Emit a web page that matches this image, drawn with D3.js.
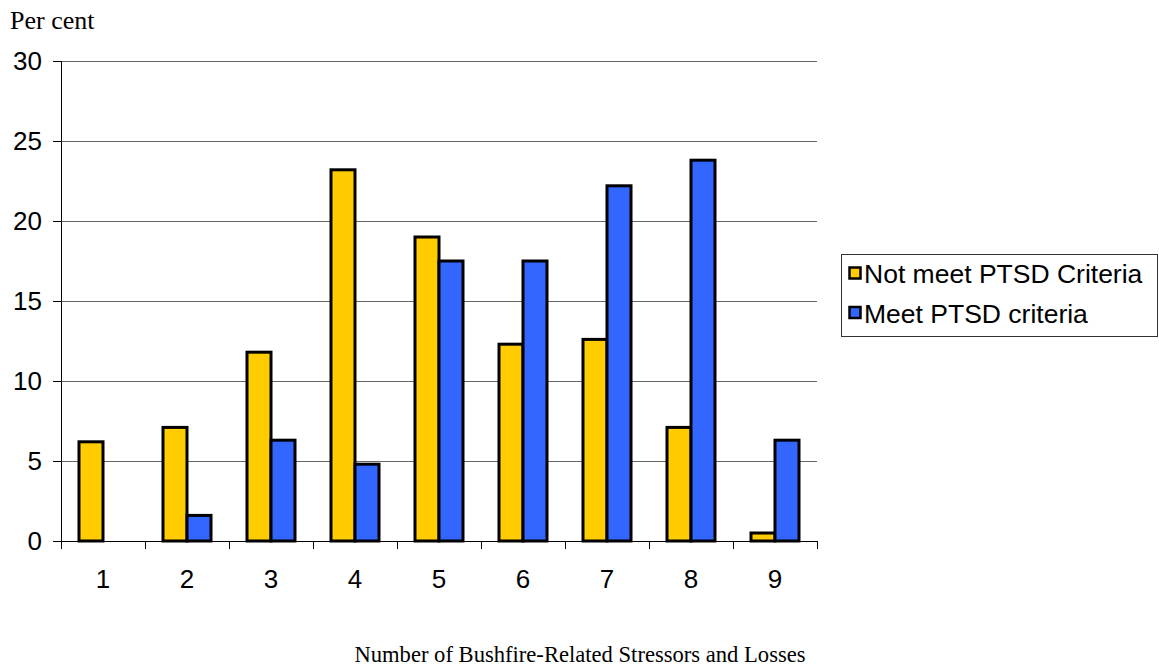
<!DOCTYPE html>
<html><head><meta charset="utf-8">
<script src="https://cdn.jsdelivr.net/npm/d3@7"></script>
<style>body{margin:0;background:#fff;}svg{display:block;}</style>
</head><body>
<script>
const categories = ["1","2","3","4","5","6","7","8","9"];
const seriesNames = ["Not meet PTSD Criteria","Meet PTSD criteria"];
const notMeet = [6.2, 7.1, 11.8, 23.2, 19.0, 12.3, 12.6, 7.1, 0.5];
const meet = [null, 1.6, 6.3, 4.8, 17.5, 17.5, 22.2, 23.8, 6.3];
const yTicks = [0,5,10,15,20,25,30];
const colors = ["#FFCC00","#3366FF"];

const W=1159,H=668;
const svg=d3.select("body").append("svg").attr("width",W).attr("height",H);
const L=61,R=817,T=61,B=541;
const x=d3.scaleBand().domain(categories).range([L,R]).padding(0);
const x1=d3.scaleBand().domain([0,1]).range([0,x.bandwidth()]).paddingInner(0).paddingOuter(0.75);
const y=d3.scaleLinear().domain([0,30]).range([B,T]);
const sans="Liberation Sans, Arial, sans-serif", serif="Liberation Serif, Times New Roman, serif";

// gridlines
svg.append("g").selectAll("line").data(yTicks.filter(d=>d>0)).join("line")
  .attr("x1",L).attr("x2",R).attr("y1",d=>y(d)).attr("y2",d=>y(d))
  .attr("stroke","#666").attr("stroke-width",1).attr("shape-rendering","crispEdges");

// y axis
const ya=svg.append("g").attr("transform",`translate(${L},0)`)
  .call(d3.axisLeft(y).tickValues(yTicks).tickSize(8).tickPadding(11));
ya.select(".domain").attr("stroke","#000").attr("shape-rendering","crispEdges");
ya.selectAll(".tick line").attr("stroke","#000").attr("shape-rendering","crispEdges");
ya.selectAll("text").attr("font-family",sans).attr("font-size",26).attr("fill","#000");

// bars
const data=categories.map((c,i)=>({c,vals:[notMeet[i],meet[i]]}));
const g=svg.append("g");
data.forEach(d=>{
  d.vals.forEach((v,k)=>{
    if(v==null) return;
    g.append("rect").attr("x",x(d.c)+x1(k)).attr("width",x1.bandwidth())
      .attr("y",y(v)).attr("height",y(0)-y(v))
      .attr("fill",colors[k]).attr("stroke","#000").attr("stroke-width",3);
  });
});

// x axis
const xa=svg.append("g").attr("transform",`translate(0,${B})`);
xa.append("line").attr("x1",L).attr("x2",R).attr("stroke","#000").attr("shape-rendering","crispEdges");
xa.selectAll("line.t").data(d3.range(categories.length+1)).join("line").attr("class","t")
  .attr("x1",i=>L+i*x.step()).attr("x2",i=>L+i*x.step()).attr("y1",0).attr("y2",8)
  .attr("stroke","#000").attr("shape-rendering","crispEdges");
xa.selectAll("text").data(categories).join("text")
  .attr("x",d=>x(d)+x.bandwidth()/2).attr("y",47).attr("text-anchor","middle")
  .attr("font-family",sans).attr("font-size",26).text(d=>d);

// titles
svg.append("text").attr("x",10).attr("y",29).attr("font-family",serif)
  .attr("font-size",26).text("Per cent");
svg.append("text").attr("x",580).attr("y",662).attr("text-anchor","middle")
  .attr("font-family",serif).attr("font-size",22.6)
  .text("Number of Bushfire-Related Stressors and Losses");

// legend
const lg=svg.append("g");
lg.append("rect").attr("x",841.5).attr("y",254.5).attr("width",316).attr("height",82)
  .attr("fill","#fff").attr("stroke","#333").attr("stroke-width",1);
seriesNames.forEach((n,k)=>{
  const cy=273+k*39.5;
  lg.append("rect").attr("x",849.5).attr("y",cy-5.5).attr("width",11).attr("height",11)
    .attr("fill",colors[k]).attr("stroke","#000").attr("stroke-width",2.5);
  lg.append("text").attr("x",864).attr("y",cy+10).attr("font-family",sans)
    .attr("font-size",26.5).text(n);
});
</script>
</body></html>
